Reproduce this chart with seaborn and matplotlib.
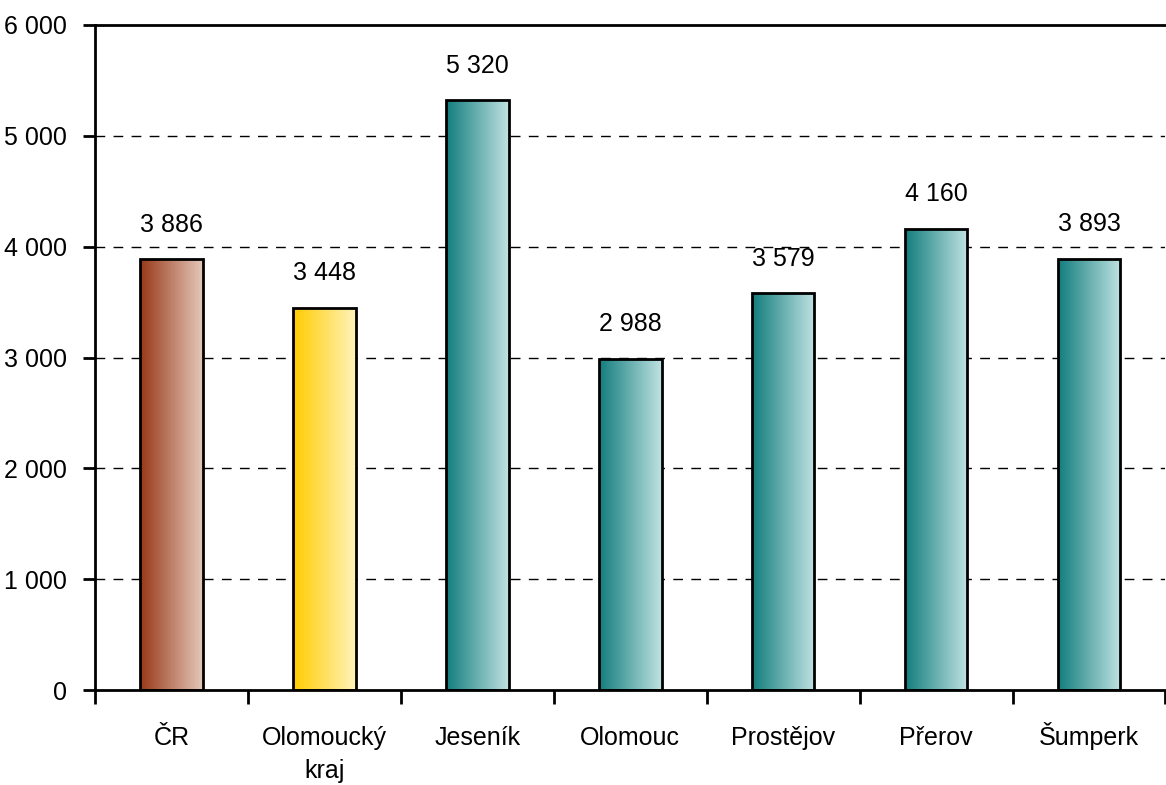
import numpy as np
import pandas as pd
import matplotlib
matplotlib.use("Agg")
import matplotlib.pyplot as plt
import seaborn as sns
from matplotlib.colors import LinearSegmentedColormap

categories = ["ČR", "Olomoucký\nkraj", "Jeseník", "Olomouc", "Prostějov", "Přerov", "Šumperk"]
values = [3886, 3448, 5320, 2988, 3579, 4160, 3893]
yticks = [0, 1000, 2000, 3000, 4000, 5000, 6000]
ytick_labels = ["0", "1 000", "2 000", "3 000", "4 000", "5 000", "6 000"]

grad_brown = ("#983818", "#E4C8BA")
grad_yellow = ("#FFCC00", "#FFF3BA")
grad_teal = ("#127D7D", "#C0E2E2")
bar_grads = [grad_brown, grad_yellow] + [grad_teal] * 5

sns.set_theme(style="white")
plt.rcParams["font.family"] = ["Liberation Sans", "DejaVu Sans"]
plt.rcParams["text.color"] = "black"
plt.rcParams["xtick.color"] = "black"
plt.rcParams["ytick.color"] = "black"

FS = 18
W, H = 1166, 785
AX_L, AX_T, AX_B = 95, 25, 690

fig = plt.figure(figsize=(W / 100, H / 100), dpi=100)
ax = fig.add_axes([AX_L / W, 1 - AX_B / H, 1 - AX_L / W - 0.0005, (AX_B - AX_T) / H])

df = pd.DataFrame({"cat": categories, "val": values})
sns.barplot(data=df, x="cat", y="val", ax=ax, width=0.41, color="white",
            edgecolor="black", linewidth=2.0, saturation=1)

for patch, (c0, c1) in zip(ax.patches, bar_grads):
    x0, y0 = patch.get_x(), patch.get_y()
    w, h = patch.get_width(), patch.get_height()
    cmap = LinearSegmentedColormap.from_list("g", [c0, c1])
    grad = np.linspace(0, 1, 256).reshape(1, -1)
    im = ax.imshow(grad, cmap=cmap, aspect="auto", extent=(x0, x0 + w, y0, y0 + h), zorder=2)
    im.set_clip_path(patch)
    patch.set_facecolor("none")
    patch.set_zorder(3)

for i, v in enumerate(values):
    ax.text(i, v + 250, f"{v:,}".replace(",", " "), ha="center", va="baseline", fontsize=FS)

ax.set_xlim(-0.5, len(categories) - 0.5)
ax.set_ylim(0, 6000)
ax.set_yticks(yticks)
ax.set_yticklabels(ytick_labels, fontsize=FS)
ax.set_xticks(range(len(categories)))
ax.set_xticklabels([])
ax.tick_params(axis="x", which="major", length=0)
ax.tick_params(axis="y", length=9, width=2.0, direction="out", pad=11, left=True)
ax.set_xticks(np.arange(-0.5, len(categories) - 0.4, 1), minor=True)
ax.tick_params(axis="x", which="minor", length=10, width=2.0, direction="out", bottom=True)
ax.set_xlabel("")
ax.set_ylabel("")

# category labels, baseline-aligned (first line baseline ~745px, next lines ~33px apart)
first_base, line_step = 745, 33
for i, lab in enumerate(categories):
    n_extra = lab.count("\n")
    base_px = first_base + n_extra * line_step
    ax.text(i, -(base_px - AX_B) / (AX_B - AX_T), lab, transform=ax.get_xaxis_transform(),
            ha="center", va="baseline", fontsize=FS, linespacing=1.5, clip_on=False)

for y in yticks[1:-1]:
    ax.axhline(y, color="black", linestyle=(0, (7, 6)), linewidth=1.0, zorder=1)

for s in ["left", "bottom", "top"]:
    ax.spines[s].set_visible(True)
    ax.spines[s].set_color("black")
    ax.spines[s].set_linewidth(2.0)
ax.spines["right"].set_visible(False)
ax.grid(False)

fig.savefig("out.png", dpi=100)
